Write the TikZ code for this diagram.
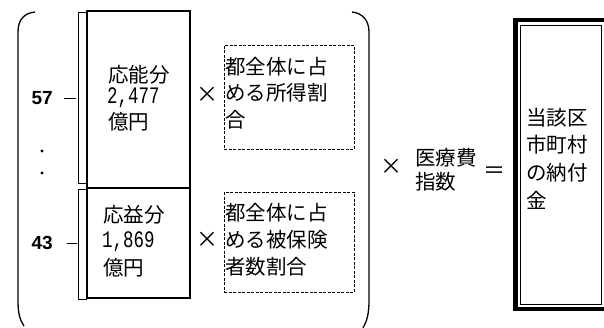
\documentclass[tikz,border=0pt]{standalone}
\usepackage{fontspec}
\newfontfamily\jp{Noto Sans CJK JP}
\newfontfamily\numf{Liberation Mono}
\newfontfamily\lab{Liberation Sans}
\begin{document}
\begin{tikzpicture}[x=1pt,y=-1pt,
  txt/.style={font=\jp\fontsize{20.5}{20.5}\selectfont, inner sep=0, anchor=west},
  num/.style={font=\numf\fontsize{17.5}{17.5}\selectfont, inner sep=0, anchor=west},
  lbl/.style={font=\lab\bfseries\fontsize{19}{19}\selectfont, inner sep=0, anchor=east},
  op/.style={font=\jp\fontsize{22}{22}\selectfont, inner sep=0},
  box/.style={draw, line width=1.2pt, inner sep=0, outer sep=0},
  dbox/.style={draw, line width=0.9pt, dash pattern=on 3pt off 1.5pt, inner sep=0, outer sep=0},
  brk/.style={draw, line width=1pt},
  paren/.style={draw, line width=1.3pt}]
\useasboundingbox (0,0) rectangle (604,327);
\clip (0,0) rectangle (604,327);
% big parentheses
\draw[paren] (35,12) .. controls (24,13) and (18,20) .. (18,32) -- (18,300) .. controls (18,314) and (20,320) .. (24,326);
\draw[paren] (352,12) .. controls (362,13) and (369,20) .. (369,32) -- (369,300) .. controls (369,314) and (367,321) .. (363,328);
% boxes
\node[box, minimum width=103, minimum height=177] (bA) at (138.5,99.5) {};
\node[box, minimum width=103, minimum height=110] (bB) at (138.5,243) {};
\node[dbox, minimum width=130, minimum height=104] (dA) at (289,97) {};
\node[dbox, minimum width=130, minimum height=100] (dB) at (289,242) {};
% brackets
\draw[brk] (87,12.5) -- (78,12.5) -- (78,183) -- (87,183);
\draw[brk] (87,189) -- (78,189) -- (78,299) -- (87,299);
% labels
\node[lbl] (l57) at (53,98) {57};
\node[lbl] (l43) at (53,243) {43};
\coordinate (t57) at (76,98);
\coordinate (t43) at (77,243);
\draw[line width=1pt] ([xshift=11pt]l57.east) -- (t57);
\draw[line width=1pt] ([xshift=14pt]l43.east) -- (t43);
\fill (42,151) circle (1.7);
\fill (42,173) circle (1.7);
% box texts
\node[txt] (a1) at (108,75) {応能分};
\node[num] (a2) at (107,98) {\scalebox{1}[1.35]{2,477}};
\node[txt] (a3) at (108,122) {億円};
\node[txt] (b1) at (103,215) {応益分};
\node[num] (b2) at (102,242) {\scalebox{1}[1.35]{1,869}};
\node[txt] (b3) at (103,268) {億円};
\node[txt] (c1) at (225,67) {都全体に占};
\node[txt] (c2) at (225,93) {める所得割};
\node[txt] (c3) at (225,120) {合};
\node[txt] (d1) at (225,213) {都全体に占};
\node[txt] (d2) at (225,240) {める被保険};
\node[txt] (d3) at (225,267) {者数割合};
% operators
\node[op] (x1) at (207,95) {×};
\node[op] (x2) at (207,240) {×};
\node[op] (x3) at (391,167) {×};
\node[txt] (e1) at (415,158) {医療費};
\node[txt] (e2) at (415,182) {指数};
\node[op] (eq) at (494,173) {＝};
% result box
\node[draw, line width=4.5pt, inner sep=0, outer sep=0, minimum width=91.5, minimum height=289] (rO) at (561.25,164.5) {};
\node[draw, line width=1pt, inner sep=0, outer sep=0, minimum width=80.5, minimum height=279.5] (rI) at (560.75,164.75) {};
\node[txt] (r1) at (526,118) {当該区};
\node[txt] (r2) at (526,145) {市町村};
\node[txt] (r3) at (526,173) {の納付};
\node[txt] (r4) at (526,200) {金};
\end{tikzpicture}
\end{document}
